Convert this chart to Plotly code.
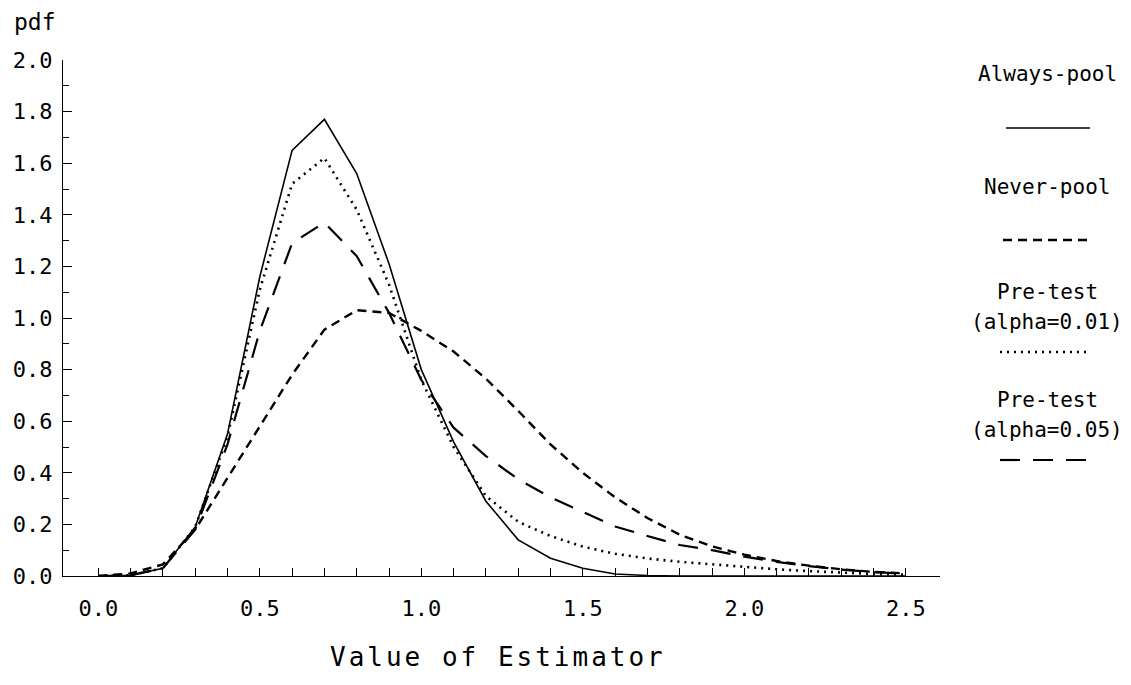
import plotly.graph_objects as go

# ---- data ----
x_values = [0.0, 0.1, 0.2, 0.3, 0.4, 0.5, 0.6, 0.7, 0.8, 0.9, 1.0, 1.1, 1.2,
            1.3, 1.4, 1.5, 1.6, 1.7, 1.8, 1.9, 2.0, 2.1, 2.2, 2.3, 2.4, 2.5]

always_pool = [0.0, 0.003, 0.03, 0.19, 0.55, 1.16, 1.65, 1.77, 1.56, 1.21, 0.80, 0.52, 0.29,
               0.14, 0.069, 0.03, 0.008, 0.002, 0.0, 0.0, 0.0, 0.0, 0.0, 0.0, 0.0, 0.0]

never_pool = [0.0, 0.01, 0.045, 0.18, 0.38, 0.58, 0.78, 0.955, 1.03, 1.02, 0.95, 0.87, 0.765,
              0.64, 0.51, 0.40, 0.305, 0.225, 0.16, 0.115, 0.083, 0.058, 0.04, 0.026, 0.016, 0.01]

pretest_01 = [0.0, 0.003, 0.03, 0.19, 0.54, 1.11, 1.52, 1.62, 1.42, 1.13, 0.76, 0.50, 0.31,
              0.21, 0.155, 0.114, 0.086, 0.068, 0.055, 0.045, 0.035, 0.026, 0.019, 0.013, 0.008, 0.005]

pretest_05 = [0.0, 0.003, 0.03, 0.18, 0.51, 0.95, 1.29, 1.37, 1.24, 1.02, 0.76, 0.575, 0.465,
              0.375, 0.305, 0.248, 0.192, 0.155, 0.12, 0.10, 0.075, 0.055, 0.038, 0.025, 0.015, 0.009]

x_tick_vals = [0.0, 0.5, 1.0, 1.5, 2.0, 2.5]
x_tick_text = ["0.0", "0.5", "1.0", "1.5", "2.0", "2.5"]
x_minor_vals = [round(i * 0.1, 1) for i in range(26)]
y_tick_vals = [0.0, 0.2, 0.4, 0.6, 0.8, 1.0, 1.2, 1.4, 1.6, 1.8, 2.0]
y_tick_text = ["0.0", "0.2", "0.4", "0.6", "0.8", "1.0", "1.2", "1.4", "1.6", "1.8", "2.0"]
y_minor_vals = [round(i * 0.1, 1) for i in range(1, 20)]

series_names = ["Always-pool", "Never-pool", "Pre-test (alpha=0.01)", "Pre-test (alpha=0.05)"]
legend_labels = [["Always-pool"], ["Never-pool"], ["Pre-test", "(alpha=0.01)"], ["Pre-test", "(alpha=0.05)"]]

# ---- layout geometry ----
W, H = 1131, 685
L, R, T, B = 63, 940, 60, 576
FONT = "DejaVu Sans Mono"


def px(xp):
    return (xp - L) / (R - L)


def py(yp):
    return (B - yp) / (B - T)


styles = [
    dict(color="black", width=1.6, dash="solid"),
    dict(color="black", width=2.4, dash="9px,6px"),
    dict(color="black", width=2.6, dash="2px,5px"),
    dict(color="black", width=2.2, dash="20px,13px"),
]
series = [always_pool, never_pool, pretest_01, pretest_05]

fig = go.Figure()
for name, ys, st in zip(series_names, series, styles):
    fig.add_trace(go.Scatter(x=x_values, y=ys, mode="lines", name=name,
                             line=st, showlegend=False))

fig.update_layout(
    width=W, height=H,
    margin=dict(l=L, r=W - R, t=T, b=H - B, pad=0),
    paper_bgcolor="white", plot_bgcolor="white",
    font=dict(family=FONT, size=22, color="black"),
    xaxis=dict(
        range=[(L - 98.3) / 323.0, (R - 98.3) / 323.0],
        showline=True, linecolor="black", linewidth=1.2,
        showgrid=False, zeroline=False,
        tickmode="array", tickvals=x_tick_vals, ticktext=x_tick_text,
        ticks="inside", ticklen=8, tickwidth=1.2, tickcolor="black",
        ticklabelstandoff=12,
        tickfont=dict(family=FONT, size=22),
        minor=dict(tickmode="array", tickvals=x_minor_vals, ticks="inside",
                   ticklen=8, tickwidth=1.2, tickcolor="black", showgrid=False),
    ),
    yaxis=dict(
        range=[0, 2.0],
        showline=True, linecolor="black", linewidth=1.2,
        showgrid=False, zeroline=False,
        tickmode="array", tickvals=y_tick_vals, ticktext=y_tick_text,
        ticks="inside", ticklen=9, tickwidth=1.2, tickcolor="black",
        ticklabelstandoff=5,
        tickfont=dict(family=FONT, size=22),
        minor=dict(tickmode="array", tickvals=y_minor_vals, ticks="inside",
                   ticklen=6, tickwidth=1.2, tickcolor="black", showgrid=False),
    ),
)

annotations = []
# y-axis label "pdf"
annotations.append(dict(text="pdf", xref="paper", yref="paper", x=px(12), y=py(22),
                        xanchor="left", yanchor="middle", showarrow=False,
                        font=dict(family=FONT, size=23)))
# x-axis title
annotations.append(dict(text='<span style="letter-spacing:3px">Value of Estimator</span>',
                        xref="paper", yref="paper", x=px(498), y=py(657),
                        xanchor="center", yanchor="middle", showarrow=False,
                        font=dict(family=FONT, size=26)))

# custom legend: text lines above a line sample
legend_cx = 1047
legend_text_y = [[74], [187], [292, 322], [400, 430]]
legend_line_y = [128, 240, 352, 460]
legend_line_x = [(1006, 1090), (1003, 1090), (1000, 1090), (1000, 1090)]
shapes = []
for labels, tys, ly, (x0, x1), st in zip(legend_labels, legend_text_y, legend_line_y,
                                         legend_line_x, styles):
    for lab, ty in zip(labels, tys):
        annotations.append(dict(text=lab, xref="paper", yref="paper", x=px(legend_cx), y=py(ty),
                                xanchor="center", yanchor="middle", showarrow=False,
                                font=dict(family=FONT, size=21)))
    shapes.append(dict(type="line", xref="paper", yref="paper",
                       x0=px(x0), x1=px(x1), y0=py(ly), y1=py(ly),
                       line=dict(color="black", width=st["width"], dash=st["dash"])))

fig.update_layout(annotations=annotations, shapes=shapes)

fig.write_html("out.html")
